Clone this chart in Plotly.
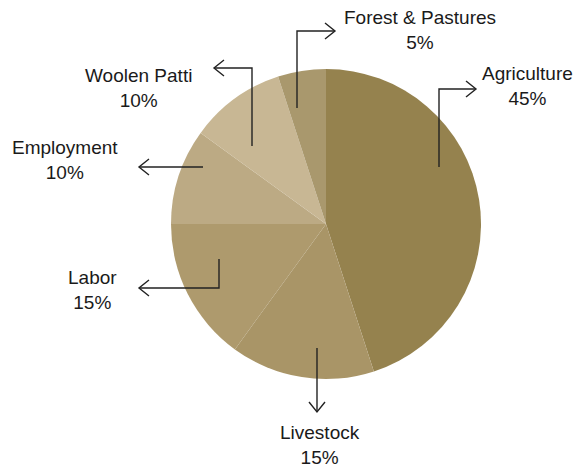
import plotly.graph_objects as go

# Share of household income by source
categories = ["Agriculture", "Livestock", "Labor", "Employment", "Woolen Patti", "Forest & Pastures"]
shares = [45, 15, 15, 10, 10, 5]
colors = ["#95824e", "#a99567", "#ae9a6d", "#bcaa84", "#c8b794", "#a9986d"]

W, H = 574, 468
CX, CY, R = 326, 224, 155  # pie centre and radius in pixels


def px(x, y):
    """Pixel position (top-left origin) -> paper coordinates."""
    return x / W, 1 - y / H


# Callout layout per category: polyline points (pixels), arrow direction, label centre
callouts = {
    "Agriculture": dict(pts=[(439, 167), (439, 89), (476, 89)], dir="right", label=(527, 86)),
    "Livestock": dict(pts=[(317, 348), (317, 412)], dir="down", label=(320, 445)),
    "Labor": dict(pts=[(219, 259), (219, 288), (139, 288)], dir="left", label=(92, 290)),
    "Employment": dict(pts=[(203, 167), (139, 167)], dir="left", label=(65, 160)),
    "Woolen Patti": dict(pts=[(252, 146), (252, 68), (214, 68)], dir="left", label=(138, 88)),
    "Forest & Pastures": dict(pts=[(297, 108), (297, 31), (335, 31)], dir="right", label=(420, 30)),
}

fig = go.Figure(
    go.Pie(
        labels=categories,
        values=shares,
        sort=False,
        direction="clockwise",
        rotation=0,
        marker=dict(colors=colors, line=dict(width=0)),
        textinfo="none",
        hoverinfo="label+percent",
        showlegend=False,
        domain=dict(
            x=[(CX - R) / W, (CX + R) / W],
            y=[(H - CY - R) / H, (H - CY + R) / H],
        ),
    )
)

shapes = []
annotations = []
line_style = dict(color="#222222", width=1.4)
for name, val in zip(categories, shares):
    c = callouts[name]
    pts = c["pts"]
    path = "M " + " L ".join("{:.5f},{:.5f}".format(*px(x, y)) for x, y in pts)
    shapes.append(dict(type="path", path=path, xref="paper", yref="paper", line=line_style))
    # open chevron arrow head at the last point
    tx, ty = pts[-1]
    L, S = 10, 8
    if c["dir"] == "right":
        head = [(tx - L, ty - S), (tx, ty), (tx - L, ty + S)]
    elif c["dir"] == "left":
        head = [(tx + L, ty - S), (tx, ty), (tx + L, ty + S)]
    else:
        head = [(tx - S, ty - L), (tx, ty), (tx + S, ty - L)]
    hpath = "M " + " L ".join("{:.5f},{:.5f}".format(*px(x, y)) for x, y in head)
    shapes.append(dict(type="path", path=hpath, xref="paper", yref="paper", line=line_style))

    lx, ly = px(*c["label"])
    annotations.append(
        dict(
            text=f"{name}<br>{val}%",
            x=lx,
            y=ly,
            xref="paper",
            yref="paper",
            xanchor="center",
            yanchor="middle",
            showarrow=False,
            align="center",
            font=dict(family="Liberation Sans, Arial, sans-serif", size=19, color="#1a1a1a"),
        )
    )

fig.update_layout(
    width=W,
    height=H,
    margin=dict(l=0, r=0, t=0, b=0),
    paper_bgcolor="white",
    plot_bgcolor="white",
    shapes=shapes,
    annotations=annotations,
)

fig.write_html("out.html")
